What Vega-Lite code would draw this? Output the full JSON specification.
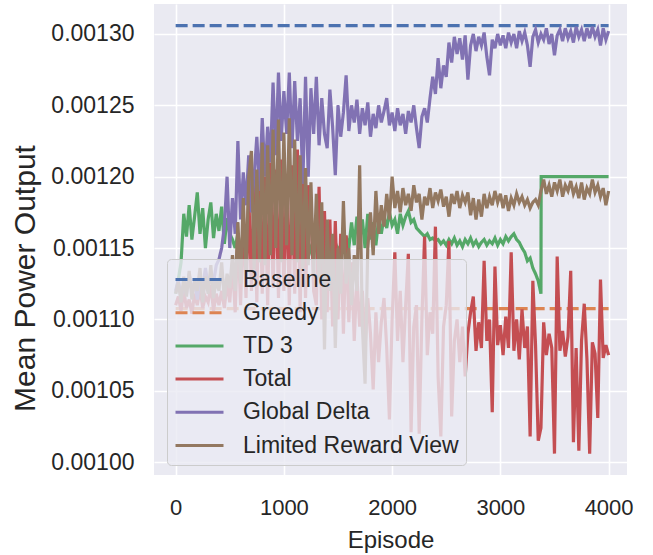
{
  "$schema": "https://vega.github.io/schema/vega-lite/v6.json",
  "width": 473,
  "height": 471,
  "autosize": {"type": "none"},
  "padding": {"left": 154, "top": 4, "right": 26, "bottom": 80},
  "background": "white",
  "config": {
    "font": "Liberation Sans",
    "view": {"fill": "#EAEAF2", "stroke": null},
    "axis": {"domain": false, "ticks": false, "gridColor": "white", "gridWidth": 1.6, "labelColor": "#262626", "titleColor": "#262626", "titleFontWeight": "normal", "labelFont": "Liberation Sans", "titleFont": "Liberation Sans"},
    "legend": {"labelFont": "Liberation Sans", "title": null, "orient": "none", "legendX": 13, "legendY": 255, "fillColor": "rgba(234,234,242,0.8)", "strokeColor": "#cccccc", "cornerRadius": 4, "padding": 7, "labelFontSize": 23, "labelColor": "#262626", "labelLimit": 0, "symbolType": "M-1,0H3", "symbolSize": 576, "symbolStrokeWidth": 3, "labelOffset": 42, "rowPadding": 7.2}
  },
  "data": {"values": [
    {"e":0,"Baseline":0.0013058,"Greedy":0.0011075,"TD 3":0.001118,"Total":0.001110,"Global Delta":0.001120,"Limited Reward View":0.001118},
    {"e":25,"TD 3":0.001128,"Total":0.001116,"Global Delta":0.001128,"Limited Reward View":0.001126},
    {"e":50,"TD 3":0.001140,"Total":0.001106,"Global Delta":0.001115,"Limited Reward View":0.001112},
    {"e":75,"TD 3":0.001174,"Total":0.001120,"Global Delta":0.001125,"Limited Reward View":0.001130},
    {"e":100,"TD 3":0.001158,"Total":0.001108,"Global Delta":0.001118,"Limited Reward View":0.001116},
    {"e":125,"TD 3":0.001180,"Total":0.001114,"Global Delta":0.001132,"Limited Reward View":0.001134},
    {"e":150,"TD 3":0.001156,"Total":0.001104,"Global Delta":0.001120,"Limited Reward View":0.001114},
    {"e":175,"TD 3":0.001172,"Total":0.001118,"Global Delta":0.001126,"Limited Reward View":0.001128},
    {"e":200,"TD 3":0.001189,"Total":0.001110,"Global Delta":0.001114,"Limited Reward View":0.001120},
    {"e":225,"TD 3":0.001160,"Total":0.001122,"Global Delta":0.001130,"Limited Reward View":0.001136},
    {"e":250,"TD 3":0.001178,"Total":0.001108,"Global Delta":0.001122,"Limited Reward View":0.001112},
    {"e":275,"TD 3":0.001150,"Total":0.001116,"Global Delta":0.001136,"Limited Reward View":0.001130},
    {"e":300,"TD 3":0.001170,"Total":0.001112,"Global Delta":0.001124,"Limited Reward View":0.001118},
    {"e":325,"TD 3":0.001182,"Total":0.001124,"Global Delta":0.001131,"Limited Reward View":0.001138},
    {"e":350,"TD 3":0.001157,"Total":0.001106,"Global Delta":0.001126,"Limited Reward View":0.001115},
    {"e":375,"TD 3":0.001174,"Total":0.001118,"Global Delta":0.001138,"Limited Reward View":0.001128},
    {"e":400,"TD 3":0.001162,"Total":0.001110,"Global Delta":0.001142,"Limited Reward View":0.001120},
    {"e":425,"TD 3":0.001179,"Total":0.001120,"Global Delta":0.001150,"Limited Reward View":0.001140},
    {"e":450,"TD 3":0.001153,"Total":0.001108,"Global Delta":0.001165,"Limited Reward View":0.001114},
    {"e":475,"TD 3":0.001171,"Total":0.001126,"Global Delta":0.001200,"Limited Reward View":0.001132},
    {"e":500,"TD 3":0.001160,"Total":0.001112,"Global Delta":0.001150,"Limited Reward View":0.001122},
    {"e":525,"TD 3":0.001156,"Total":0.001140,"Global Delta":0.001185,"Limited Reward View":0.001145},
    {"e":550,"TD 3":0.001150,"Total":0.001105,"Global Delta":0.001160,"Limited Reward View":0.001120},
    {"e":575,"TD 3":0.001160,"Total":0.001160,"Global Delta":0.001225,"Limited Reward View":0.001168},
    {"e":600,"TD 3":0.001148,"Total":0.001110,"Global Delta":0.001170,"Limited Reward View":0.001125},
    {"e":625,"TD 3":0.001158,"Total":0.001175,"Global Delta":0.001203,"Limited Reward View":0.001185},
    {"e":650,"TD 3":0.001152,"Total":0.001115,"Global Delta":0.001180,"Limited Reward View":0.001130},
    {"e":675,"TD 3":0.001160,"Total":0.001190,"Global Delta":0.001215,"Limited Reward View":0.001200},
    {"e":700,"TD 3":0.001150,"Total":0.001120,"Global Delta":0.001175,"Limited Reward View":0.001218},
    {"e":725,"TD 3":0.001156,"Total":0.001195,"Global Delta":0.001200,"Limited Reward View":0.001135},
    {"e":750,"TD 3":0.001148,"Total":0.001112,"Global Delta":0.001228,"Limited Reward View":0.001205},
    {"e":775,"TD 3":0.001158,"Total":0.001205,"Global Delta":0.001190,"Limited Reward View":0.001140},
    {"e":800,"TD 3":0.001150,"Total":0.001118,"Global Delta":0.001241,"Limited Reward View":0.001224},
    {"e":825,"TD 3":0.001156,"Total":0.001200,"Global Delta":0.001200,"Limited Reward View":0.001138},
    {"e":850,"TD 3":0.001148,"Total":0.001110,"Global Delta":0.001235,"Limited Reward View":0.001222},
    {"e":875,"TD 3":0.001158,"Total":0.001210,"Global Delta":0.001210,"Limited Reward View":0.001145},
    {"e":900,"TD 3":0.001150,"Total":0.001122,"Global Delta":0.001266,"Limited Reward View":0.001233},
    {"e":925,"TD 3":0.001156,"Total":0.001205,"Global Delta":0.001215,"Limited Reward View":0.001150},
    {"e":950,"TD 3":0.001148,"Total":0.001115,"Global Delta":0.001273,"Limited Reward View":0.001240},
    {"e":975,"TD 3":0.001158,"Total":0.001212,"Global Delta":0.001225,"Limited Reward View":0.001140},
    {"e":1000,"TD 3":0.001150,"Total":0.001120,"Global Delta":0.001260,"Limited Reward View":0.001231},
    {"e":1025,"TD 3":0.001154,"Total":0.001200,"Global Delta":0.001230,"Limited Reward View":0.001152},
    {"e":1050,"TD 3":0.001148,"Total":0.001110,"Global Delta":0.001273,"Limited Reward View":0.001241},
    {"e":1075,"TD 3":0.001156,"Total":0.001208,"Global Delta":0.001220,"Limited Reward View":0.001145},
    {"e":1100,"TD 3":0.001150,"Total":0.001118,"Global Delta":0.001267,"Limited Reward View":0.001226},
    {"e":1125,"TD 3":0.001154,"Total":0.001219,"Global Delta":0.001225,"Limited Reward View":0.001140},
    {"e":1150,"TD 3":0.001148,"Total":0.001105,"Global Delta":0.001255,"Limited Reward View":0.001215},
    {"e":1175,"TD 3":0.001156,"Total":0.001200,"Global Delta":0.001195,"Limited Reward View":0.001135},
    {"e":1200,"TD 3":0.001150,"Total":0.001115,"Global Delta":0.001270,"Limited Reward View":0.001206},
    {"e":1225,"TD 3":0.001154,"Total":0.001194,"Global Delta":0.001200,"Limited Reward View":0.001138},
    {"e":1250,"TD 3":0.001148,"Total":0.001182,"Global Delta":0.001262,"Limited Reward View":0.001196},
    {"e":1275,"TD 3":0.001156,"Total":0.001120,"Global Delta":0.001230,"Limited Reward View":0.001132},
    {"e":1300,"TD 3":0.001150,"Total":0.001110,"Global Delta":0.001270,"Limited Reward View":0.001188},
    {"e":1325,"TD 3":0.001154,"Total":0.001193,"Global Delta":0.001222,"Limited Reward View":0.001128},
    {"e":1350,"TD 3":0.001148,"Total":0.001100,"Global Delta":0.001255,"Limited Reward View":0.001182},
    {"e":1375,"TD 3":0.001156,"Total":0.001176,"Global Delta":0.001230,"Limited Reward View":0.001079},
    {"e":1400,"TD 3":0.001150,"Total":0.001105,"Global Delta":0.001220,"Limited Reward View":0.001170},
    {"e":1425,"TD 3":0.001152,"Total":0.001170,"Global Delta":0.001261,"Limited Reward View":0.001120},
    {"e":1450,"TD 3":0.001146,"Total":0.001095,"Global Delta":0.001235,"Limited Reward View":0.001160},
    {"e":1475,"TD 3":0.001154,"Total":0.001169,"Global Delta":0.001201,"Limited Reward View":0.001080},
    {"e":1500,"TD 3":0.001148,"Total":0.001100,"Global Delta":0.001250,"Limited Reward View":0.001150},
    {"e":1525,"TD 3":0.001152,"Total":0.001160,"Global Delta":0.001228,"Limited Reward View":0.001118},
    {"e":1550,"TD 3":0.001146,"Total":0.001090,"Global Delta":0.001245,"Limited Reward View":0.001183},
    {"e":1575,"TD 3":0.001158,"Total":0.001159,"Global Delta":0.001271,"Limited Reward View":0.001125},
    {"e":1600,"TD 3":0.001150,"Total":0.001098,"Global Delta":0.001232,"Limited Reward View":0.001150},
    {"e":1625,"TD 3":0.001168,"Total":0.001140,"Global Delta":0.001250,"Limited Reward View":0.001110},
    {"e":1650,"TD 3":0.001152,"Total":0.001085,"Global Delta":0.001238,"Limited Reward View":0.001145},
    {"e":1675,"TD 3":0.001172,"Total":0.001130,"Global Delta":0.001254,"Limited Reward View":0.001120},
    {"e":1700,"TD 3":0.001155,"Total":0.001095,"Global Delta":0.001230,"Limited Reward View":0.001208},
    {"e":1725,"TD 3":0.001170,"Total":0.001120,"Global Delta":0.001248,"Limited Reward View":0.001095},
    {"e":1750,"TD 3":0.001150,"Total":0.001080,"Global Delta":0.001236,"Limited Reward View":0.001055},
    {"e":1775,"TD 3":0.001174,"Total":0.001115,"Global Delta":0.001252,"Limited Reward View":0.001150},
    {"e":1800,"TD 3":0.001156,"Total":0.001090,"Global Delta":0.001228,"Limited Reward View":0.001175},
    {"e":1825,"TD 3":0.001168,"Total":0.001051,"Global Delta":0.001244,"Limited Reward View":0.001145},
    {"e":1850,"TD 3":0.001152,"Total":0.001105,"Global Delta":0.001234,"Limited Reward View":0.001190},
    {"e":1875,"TD 3":0.001170,"Total":0.001070,"Global Delta":0.001250,"Limited Reward View":0.001160},
    {"e":1900,"TD 3":0.001160,"Total":0.001098,"Global Delta":0.001238,"Limited Reward View":0.001180},
    {"e":1925,"TD 3":0.001172,"Total":0.001115,"Global Delta":0.001246,"Limited Reward View":0.001165},
    {"e":1950,"TD 3":0.001164,"Total":0.001080,"Global Delta":0.001255,"Limited Reward View":0.001188},
    {"e":1975,"TD 3":0.001175,"Total":0.001030,"Global Delta":0.001236,"Limited Reward View":0.001170},
    {"e":2000,"TD 3":0.001166,"Total":0.001100,"Global Delta":0.001245,"Limited Reward View":0.001200},
    {"e":2025,"TD 3":0.001170,"Total":0.001147,"Global Delta":0.001232,"Limited Reward View":0.001178},
    {"e":2050,"TD 3":0.001160,"Total":0.001085,"Global Delta":0.001248,"Limited Reward View":0.001190},
    {"e":2075,"TD 3":0.001174,"Total":0.001120,"Global Delta":0.001236,"Limited Reward View":0.001175},
    {"e":2100,"TD 3":0.001166,"Total":0.001070,"Global Delta":0.001244,"Limited Reward View":0.001192},
    {"e":2125,"TD 3":0.001172,"Total":0.001110,"Global Delta":0.001230,"Limited Reward View":0.001180},
    {"e":2150,"TD 3":0.001176,"Total":0.001146,"Global Delta":0.001246,"Limited Reward View":0.001188},
    {"e":2175,"TD 3":0.001168,"Total":0.001021,"Global Delta":0.001238,"Limited Reward View":0.001176},
    {"e":2200,"TD 3":0.001170,"Total":0.001095,"Global Delta":0.001250,"Limited Reward View":0.001194},
    {"e":2225,"TD 3":0.001164,"Total":0.001110,"Global Delta":0.001234,"Limited Reward View":0.001182},
    {"e":2250,"TD 3":0.001162,"Total":0.001020,"Global Delta":0.001220,"Limited Reward View":0.001188},
    {"e":2275,"TD 3":0.001160,"Total":0.001100,"Global Delta":0.001242,"Limited Reward View":0.001170},
    {"e":2300,"TD 3":0.001158,"Total":0.001158,"Global Delta":0.001248,"Limited Reward View":0.001186},
    {"e":2325,"TD 3":0.001160,"Total":0.001075,"Global Delta":0.001238,"Limited Reward View":0.001180},
    {"e":2350,"TD 3":0.001156,"Total":0.001105,"Global Delta":0.001255,"Limited Reward View":0.001192},
    {"e":2375,"TD 3":0.001157,"Total":0.001090,"Global Delta":0.001270,"Limited Reward View":0.001178},
    {"e":2400,"TD 3":0.001155,"Total":0.001165,"Global Delta":0.001258,"Limited Reward View":0.001189},
    {"e":2425,"TD 3":0.001156,"Total":0.001060,"Global Delta":0.001283,"Limited Reward View":0.001183},
    {"e":2450,"TD 3":0.001153,"Total":0.001018,"Global Delta":0.001262,"Limited Reward View":0.001191},
    {"e":2475,"TD 3":0.001155,"Total":0.001095,"Global Delta":0.001278,"Limited Reward View":0.001179},
    {"e":2500,"TD 3":0.001152,"Total":0.001110,"Global Delta":0.001270,"Limited Reward View":0.001186},
    {"e":2525,"TD 3":0.001156,"Total":0.001155,"Global Delta":0.001294,"Limited Reward View":0.001172},
    {"e":2550,"TD 3":0.001153,"Total":0.001032,"Global Delta":0.001280,"Limited Reward View":0.001188},
    {"e":2575,"TD 3":0.001157,"Total":0.001085,"Global Delta":0.001298,"Limited Reward View":0.001181},
    {"e":2600,"TD 3":0.001152,"Total":0.001100,"Global Delta":0.001286,"Limited Reward View":0.001190},
    {"e":2625,"TD 3":0.001155,"Total":0.001070,"Global Delta":0.001297,"Limited Reward View":0.001178},
    {"e":2650,"TD 3":0.001151,"Total":0.001095,"Global Delta":0.001282,"Limited Reward View":0.001187},
    {"e":2675,"TD 3":0.001156,"Total":0.001060,"Global Delta":0.001299,"Limited Reward View":0.001182},
    {"e":2700,"TD 3":0.001153,"Total":0.001090,"Global Delta":0.001268,"Limited Reward View":0.001189},
    {"e":2725,"TD 3":0.001157,"Total":0.001105,"Global Delta":0.001292,"Limited Reward View":0.001173},
    {"e":2750,"TD 3":0.001152,"Total":0.001116,"Global Delta":0.001300,"Limited Reward View":0.001185},
    {"e":2775,"TD 3":0.001155,"Total":0.001078,"Global Delta":0.001288,"Limited Reward View":0.001170},
    {"e":2800,"TD 3":0.001151,"Total":0.001098,"Global Delta":0.001298,"Limited Reward View":0.001184},
    {"e":2825,"TD 3":0.001154,"Total":0.001080,"Global Delta":0.001292,"Limited Reward View":0.001172},
    {"e":2850,"TD 3":0.001156,"Total":0.001141,"Global Delta":0.001301,"Limited Reward View":0.001188},
    {"e":2875,"TD 3":0.001152,"Total":0.001085,"Global Delta":0.001284,"Limited Reward View":0.001178},
    {"e":2900,"TD 3":0.001155,"Total":0.001100,"Global Delta":0.001271,"Limited Reward View":0.001186},
    {"e":2925,"TD 3":0.001153,"Total":0.001035,"Global Delta":0.001296,"Limited Reward View":0.001180},
    {"e":2950,"TD 3":0.001157,"Total":0.001137,"Global Delta":0.001290,"Limited Reward View":0.001190},
    {"e":2975,"TD 3":0.001152,"Total":0.001082,"Global Delta":0.001300,"Limited Reward View":0.001182},
    {"e":3000,"TD 3":0.001156,"Total":0.001096,"Global Delta":0.001292,"Limited Reward View":0.001188},
    {"e":3025,"TD 3":0.001153,"Total":0.001075,"Global Delta":0.001299,"Limited Reward View":0.001178},
    {"e":3050,"TD 3":0.001158,"Total":0.001102,"Global Delta":0.001290,"Limited Reward View":0.001187},
    {"e":3075,"TD 3":0.001155,"Total":0.001080,"Global Delta":0.001301,"Limited Reward View":0.001176},
    {"e":3100,"TD 3":0.001158,"Total":0.001147,"Global Delta":0.001294,"Limited Reward View":0.001185},
    {"e":3125,"TD 3":0.001160,"Total":0.001078,"Global Delta":0.001300,"Limited Reward View":0.001180},
    {"e":3150,"TD 3":0.001156,"Total":0.001100,"Global Delta":0.001290,"Limited Reward View":0.001188},
    {"e":3175,"TD 3":0.001154,"Total":0.001072,"Global Delta":0.001302,"Limited Reward View":0.001182},
    {"e":3200,"TD 3":0.001150,"Total":0.001107,"Global Delta":0.001295,"Limited Reward View":0.001186},
    {"e":3225,"TD 3":0.001147,"Total":0.001080,"Global Delta":0.001301,"Limited Reward View":0.001180},
    {"e":3250,"TD 3":0.001141,"Total":0.001095,"Global Delta":0.001292,"Limited Reward View":0.001184},
    {"e":3275,"TD 3":0.001143,"Total":0.001018,"Global Delta":0.001277,"Limited Reward View":0.001178},
    {"e":3300,"TD 3":0.001136,"Total":0.001127,"Global Delta":0.001298,"Limited Reward View":0.001182},
    {"e":3325,"TD 3":0.001132,"Total":0.001082,"Global Delta":0.001303,"Limited Reward View":0.001184},
    {"e":3350,"TD 3":0.001127,"Total":0.001015,"Global Delta":0.001294,"Limited Reward View":0.001180},
    {"e":3375,"TD 3":0.001118,"Total":0.001024,"Global Delta":0.001300,"Limited Reward View":0.001190},
    {"e":3377,"TD 3":0.001200},
    {"e":3400,"TD 3":0.001200,"Total":0.001098,"Global Delta":0.001296,"Limited Reward View":0.001198},
    {"e":3425,"TD 3":0.001200,"Total":0.001075,"Global Delta":0.001304,"Limited Reward View":0.001188},
    {"e":3450,"TD 3":0.001200,"Total":0.001090,"Global Delta":0.001293,"Limited Reward View":0.001194},
    {"e":3475,"TD 3":0.001200,"Total":0.001080,"Global Delta":0.001300,"Limited Reward View":0.001186},
    {"e":3500,"TD 3":0.001200,"Total":0.001006,"Global Delta":0.001285,"Limited Reward View":0.001196},
    {"e":3525,"TD 3":0.001200,"Total":0.001144,"Global Delta":0.001299,"Limited Reward View":0.001190},
    {"e":3550,"TD 3":0.001200,"Total":0.001078,"Global Delta":0.001303,"Limited Reward View":0.001198},
    {"e":3575,"TD 3":0.001200,"Total":0.001092,"Global Delta":0.001295,"Limited Reward View":0.001186},
    {"e":3600,"TD 3":0.001200,"Total":0.001074,"Global Delta":0.001304,"Limited Reward View":0.001194},
    {"e":3625,"TD 3":0.001200,"Total":0.001088,"Global Delta":0.001297,"Limited Reward View":0.001190},
    {"e":3650,"TD 3":0.001200,"Total":0.001134,"Global Delta":0.001302,"Limited Reward View":0.001197},
    {"e":3675,"TD 3":0.001200,"Total":0.001014,"Global Delta":0.001294,"Limited Reward View":0.001188},
    {"e":3700,"TD 3":0.001200,"Total":0.001080,"Global Delta":0.001305,"Limited Reward View":0.001193},
    {"e":3725,"TD 3":0.001200,"Total":0.001008,"Global Delta":0.001298,"Limited Reward View":0.001185},
    {"e":3750,"TD 3":0.001200,"Total":0.001085,"Global Delta":0.001303,"Limited Reward View":0.001196},
    {"e":3775,"TD 3":0.001200,"Total":0.001111,"Global Delta":0.001295,"Limited Reward View":0.001184},
    {"e":3800,"TD 3":0.001200,"Total":0.001072,"Global Delta":0.001304,"Limited Reward View":0.001192},
    {"e":3825,"TD 3":0.001200,"Total":0.001006,"Global Delta":0.001297,"Limited Reward View":0.001188},
    {"e":3850,"TD 3":0.001200,"Total":0.001084,"Global Delta":0.001305,"Limited Reward View":0.001198},
    {"e":3875,"TD 3":0.001200,"Total":0.001076,"Global Delta":0.001298,"Limited Reward View":0.001189},
    {"e":3900,"TD 3":0.001200,"Total":0.001031,"Global Delta":0.001303,"Limited Reward View":0.001194},
    {"e":3925,"TD 3":0.001200,"Total":0.001128,"Global Delta":0.001292,"Limited Reward View":0.001186},
    {"e":3950,"TD 3":0.001200,"Total":0.001073,"Global Delta":0.001304,"Limited Reward View":0.001192},
    {"e":3975,"TD 3":0.001200,"Total":0.001082,"Global Delta":0.001296,"Limited Reward View":0.001180},
    {"e":4000,"Baseline":0.0013058,"Greedy":0.0011075,"TD 3":0.001200,"Total":0.001075,"Global Delta":0.001302,"Limited Reward View":0.001190}
  ]},
  "transform": [
    {"fold": ["Baseline", "Greedy", "TD 3", "Total", "Global Delta", "Limited Reward View"], "as": ["series", "value"]},
    {"filter": "isValid(datum.value)"}
  ],
  "mark": {"type": "line", "strokeWidth": 3.2, "strokeCap": "butt", "strokeJoin": "miter"},
  "encoding": {
    "x": {"field": "e", "type": "quantitative", "scale": {"domain": [-200, 4170], "nice": false, "zero": false},
      "axis": {"values": [0, 1000, 2000, 3000, 4000], "format": "d", "title": "Episode", "labelFontSize": 22, "labelPadding": 22, "titleFontSize": 24, "titleBaseline": "middle", "titleY": 65}},
    "y": {"field": "value", "type": "quantitative", "scale": {"domain": [0.000991, 0.001321], "nice": false, "zero": false},
      "axis": {"values": [0.001, 0.00105, 0.0011, 0.00115, 0.0012, 0.00125, 0.0013], "format": ".5f", "title": "Mean Power Output", "labelFontSize": 23, "labelPadding": 20, "titleFontSize": 30, "titleAngle": -90, "titleBaseline": "middle", "titleAlign": "center", "titleX": -129, "titleY": 274}},
    "color": {"field": "series", "type": "nominal",
      "scale": {"domain": ["Baseline", "Greedy", "TD 3", "Total", "Global Delta", "Limited Reward View"], "range": ["#4C72B0", "#DD8452", "#55A868", "#C44E52", "#8172B3", "#937860"]}},
    "strokeDash": {"field": "series", "type": "nominal",
      "scale": {"domain": ["Baseline", "Greedy", "TD 3", "Total", "Global Delta", "Limited Reward View"], "range": [[12, 5], [12, 5], [1, 0], [1, 0], [1, 0], [1, 0]]}}
  }
}
